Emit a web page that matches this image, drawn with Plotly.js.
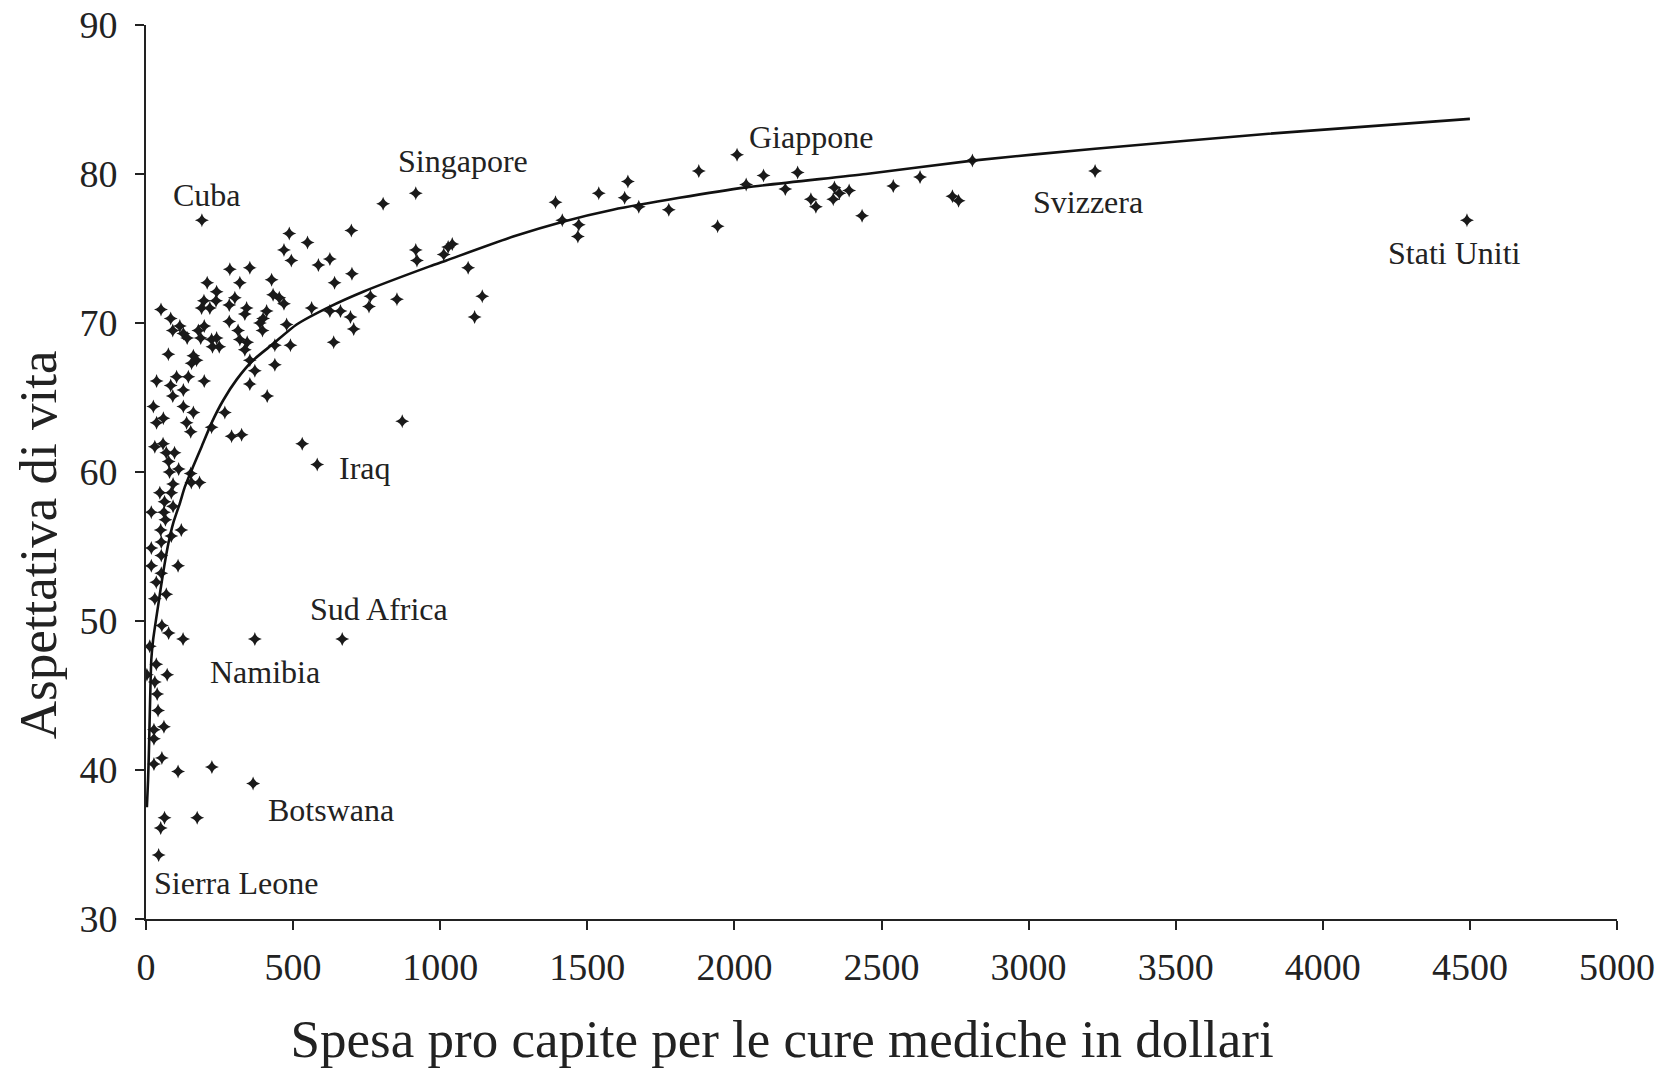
<!DOCTYPE html>
<html>
<head>
<meta charset="utf-8">
<script src="https://cdn.plot.ly/plotly-3.0.1.min.js"></script>
<style>html,body{margin:0;padding:0;background:#fff;}</style>
</head>
<body>
<div id="chart" style="width:1677px;height:1072px;"></div>
<script>
// Spesa sanitaria pro capite (dollari) e aspettativa di vita, per paese
const spesa = [
  190, 806, 698, 487, 549, 469, 494, 586, 625, 285,
  353, 208, 319, 427, 700, 641, 240, 238, 197, 189,
  217, 283, 302, 342, 336, 410, 398, 387, 396, 432,
  453, 469, 563, 625, 661, 695, 706, 763, 758, 853,
  638, 491, 438, 478, 283, 313, 319, 344, 336, 353,
  370, 438, 353, 412, 51, 84, 91, 115, 127, 140,
  178, 198, 186, 223, 240, 249, 226, 76, 161, 172,
  155, 36, 104, 144, 84, 127, 91, 198, 25, 127,
  161, 36, 59, 138, 152, 223, 268, 291, 325, 871,
  531, 582, 30, 58, 69, 97, 77, 80, 111, 152,
  154, 182, 92, 47, 86, 63, 92, 18, 61, 66,
  50, 86, 120, 52, 18, 52, 18, 109, 52, 35,
  69, 30, 54, 77, 126, 13, 370, 667, 35, 72,
  3, 30, 38, 41, 27, 61, 27, 27, 54, 109,
  224, 63, 174, 50, 43, 364, 917, 917, 921, 1012,
  1027, 1041, 1095, 1143, 1117, 1392, 1415, 1471, 1468, 1539,
  1638, 1627, 1675, 1777, 1879, 1943, 2009, 2040, 2099, 2173,
  2215, 2260, 2277, 2340, 2336, 2357, 2390, 2434, 2540, 2631,
  2741, 2762, 2809, 3226, 4490
];
const vita = [
  76.9, 78.0, 76.2, 76.0, 75.4, 74.9, 74.2, 73.9, 74.3, 73.6,
  73.7, 72.7, 72.7, 72.9, 73.3, 72.7, 72.1, 71.5, 71.5, 71.0,
  71.0, 71.2, 71.7, 71.0, 70.6, 70.8, 70.3, 70.0, 69.5, 71.9,
  71.7, 71.3, 71.0, 70.8, 70.8, 70.4, 69.6, 71.8, 71.1, 71.6,
  68.7, 68.5, 68.5, 69.9, 70.1, 69.5, 68.9, 68.7, 68.2, 67.5,
  66.8, 67.2, 65.9, 65.1, 70.9, 70.3, 69.5, 69.8, 69.3, 69.0,
  69.5, 69.8, 69.0, 68.9, 69.0, 68.4, 68.4, 67.9, 67.8, 67.5,
  67.3, 66.1, 66.4, 66.4, 65.8, 65.5, 65.1, 66.1, 64.4, 64.4,
  64.0, 63.3, 63.6, 63.3, 62.7, 63.0, 64.0, 62.4, 62.5, 63.4,
  61.9, 60.5, 61.7, 61.9, 61.3, 61.3, 60.7, 60.0, 60.2, 59.9,
  59.3, 59.3, 59.2, 58.6, 58.6, 58.0, 57.7, 57.3, 57.3, 56.8,
  56.1, 55.7, 56.1, 55.3, 54.9, 54.4, 53.7, 53.7, 53.2, 52.6,
  51.8, 51.5, 49.7, 49.2, 48.8, 48.3, 48.8, 48.8, 47.1, 46.4,
  46.4, 45.9, 45.1, 44.0, 42.7, 42.9, 42.1, 40.4, 40.8, 39.9,
  40.2, 36.8, 36.8, 36.1, 34.3, 39.1, 78.7, 74.9, 74.2, 74.6,
  75.1, 75.3, 73.7, 71.8, 70.4, 78.1, 76.9, 76.6, 75.8, 78.7,
  79.5, 78.4, 77.8, 77.6, 80.2, 76.5, 81.3, 79.3, 79.9, 79.0,
  80.1, 78.3, 77.8, 79.1, 78.3, 78.7, 78.9, 77.2, 79.2, 79.8,
  78.5, 78.2, 80.9, 80.2, 76.9
];

// Curva di tendenza
const curvaX = [3, 7, 10, 18, 24, 41, 58, 76, 93, 115, 132, 161, 189, 223, 262, 308, 364, 432, 512, 625, 738, 964, 1021, 1248, 1417, 1587, 1813, 2040, 2447, 2809, 3226, 3816, 4500];
const curvaY = [37.5, 39.3, 41.3, 47.4, 48.7, 51.0, 53.2, 55.2, 56.6, 57.9, 59.0, 60.4, 61.7, 63.3, 64.8, 66.2, 67.5, 68.6, 69.9, 71.1, 72.1, 73.8, 74.2, 75.8, 76.8, 77.6, 78.4, 79.1, 80.0, 80.9, 81.7, 82.7, 83.7];

// Etichette dei paesi
const paesi = ["Cuba", "Singapore", "Giappone", "Svizzera", "Stati Uniti", "Iraq", "Sud Africa", "Namibia", "Botswana", "Sierra Leone"];
const paesiX = [85, 849, 2044, 3009, 4214, 648, 550, 212, 408, 20];
const paesiY = [78.6, 80.9, 82.5, 78.1, 74.7, 60.3, 50.8, 46.6, 37.3, 32.4];

const xTitolo = "Spesa pro capite per le cure mediche in dollari";
const yTitolo = "Aspettativa di vita";

const FONT = "'Liberation Serif', 'Times New Roman', serif";
const INK = "#222";
const pad = n => "&nbsp;".repeat(n);

const traces = [
  {
    x: spesa, y: vita, type: "scatter", mode: "markers",
    marker: {symbol: "star-diamond", size: 10, color: "#1a1a1a", line: {width: 0}},
    hoverinfo: "x+y", showlegend: false
  },
  {
    x: curvaX, y: curvaY, type: "scatter", mode: "lines",
    line: {color: "#111", width: 2.6, shape: "spline", smoothing: 0.6},
    hoverinfo: "skip", showlegend: false
  }
];

const annotations = paesi.map((t, i) => ({
  x: paesiX[i], y: paesiY[i], xref: "x", yref: "y",
  text: t, showarrow: false, xanchor: "left", yanchor: "middle",
  font: {family: FONT, size: 32, color: INK}
}));

const axisCommon = {
  showline: true, linecolor: INK, linewidth: 2,
  ticks: "outside", ticklen: 9, tickwidth: 2, tickcolor: INK,
  tickfont: {family: FONT, size: 38, color: INK},
  showgrid: false, zeroline: false, automargin: false, fixedrange: true
};

const layout = {
  width: 1677, height: 1072,
  margin: {l: 146, r: 60, t: 25, b: 153, pad: 0},
  paper_bgcolor: "#fff", plot_bgcolor: "#fff",
  font: {family: FONT, color: INK},
  showlegend: false,
  xaxis: Object.assign({}, axisCommon, {
    range: [0, 5000], tick0: 0, dtick: 500,
    ticklabelstandoff: 4,
    title: {text: xTitolo + pad(15), font: {family: FONT, size: 53, color: INK}, standoff: 33}
  }),
  yaxis: Object.assign({}, axisCommon, {
    range: [30, 90], tick0: 30, dtick: 10,
    ticklabelstandoff: 10,
    title: {text: yTitolo + pad(11), font: {family: FONT, size: 53, color: INK}, standoff: 6}
  }),
  annotations: annotations
};

Plotly.newPlot("chart", traces, layout, {displayModeBar: false, staticPlot: true});
</script>
</body>
</html>
